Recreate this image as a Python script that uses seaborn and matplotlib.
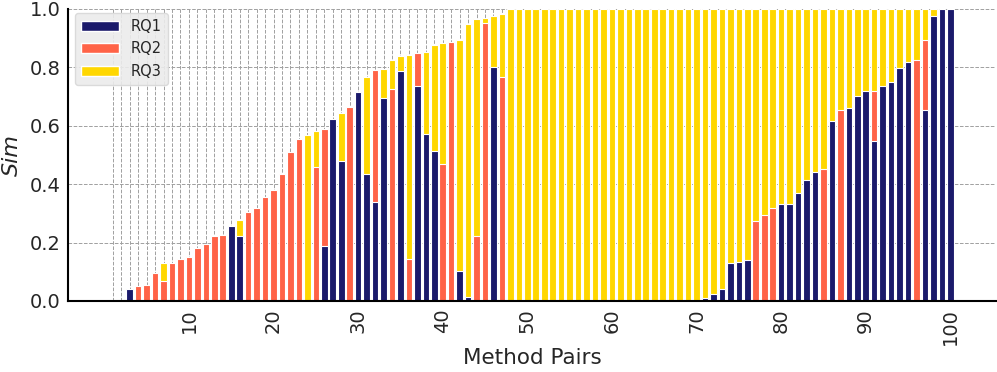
import numpy as np
import pandas as pd
import seaborn as sns
import matplotlib.pyplot as plt
from matplotlib.patches import Patch

sns.set_theme(style="white")
plt.rcParams['font.family'] = ['DejaVu Sans']

pairs = list(range(1, 101))

# visible height of each series per method pair (0 = not shown)
rq1 = [0, 0, 0.04, 0, 0, 0, 0, 0, 0, 0,
       0, 0, 0, 0, 0.256, 0.224, 0, 0, 0, 0,
       0, 0, 0, 0, 0, 0.188, 0.622, 0.479, 0, 0.716,
       0.435, 0.338, 0.695, 0, 0.787, 0, 0.737, 0.570, 0.513, 0,
       0, 0.101, 0.015, 0, 0, 0.802, 0, 0, 0, 0,
       0, 0, 0, 0, 0, 0, 0, 0, 0, 0,
       0, 0, 0, 0, 0, 0, 0, 0, 0, 0,
       0.011, 0.025, 0.040, 0.131, 0.134, 0.140, 0, 0, 0, 0.331,
       0.331, 0.370, 0.414, 0.441, 0, 0.615, 0, 0.661, 0.701, 0.719,
       0.547, 0.737, 0.749, 0.799, 0.818, 0, 0.654, 0.977, 1.0, 1.0]
rq2 = [0, 0, 0, 0.05, 0.053, 0.097, 0.068, 0.129, 0.144, 0.149,
       0.181, 0.196, 0.221, 0.225, 0, 0, 0.305, 0.320, 0.356, 0.381,
       0.436, 0.510, 0.556, 0, 0.460, 0.590, 0, 0, 0.664, 0,
       0, 0.791, 0, 0.726, 0, 0.143, 0.849, 0, 0, 0.468,
       0.886, 0, 0, 0.222, 0.951, 0, 0.768, 0, 0, 0,
       0, 0, 0, 0, 0, 0, 0, 0, 0, 0,
       0, 0, 0, 0, 0, 0, 0, 0, 0, 0,
       0, 0, 0, 0, 0, 0, 0.274, 0.295, 0.320, 0,
       0, 0, 0, 0, 0.451, 0, 0.655, 0, 0, 0,
       0.720, 0, 0, 0, 0, 0.825, 0.894, 0, 0, 0]
rq3 = [0, 0, 0, 0, 0, 0, 0.129, 0, 0, 0,
       0, 0, 0, 0, 0, 0.277, 0, 0, 0, 0,
       0, 0, 0, 0.569, 0.581, 0, 0, 0.643, 0, 0,
       0.768, 0, 0.796, 0.825, 0.840, 0.841, 0, 0.854, 0.878, 0.882,
       0, 0.892, 0.947, 0.965, 0.968, 0.977, 0.983, 1.0, 1.0, 1.0,
       1.0, 1.0, 1.0, 1.0, 1.0, 1.0, 1.0, 1.0, 1.0, 1.0,
       1.0, 1.0, 1.0, 1.0, 1.0, 1.0, 1.0, 1.0, 1.0, 1.0,
       1.0, 1.0, 1.0, 1.0, 1.0, 1.0, 1.0, 1.0, 1.0, 1.0,
       1.0, 1.0, 1.0, 1.0, 1.0, 1.0, 1.0, 1.0, 1.0, 1.0,
       1.0, 1.0, 1.0, 1.0, 1.0, 1.0, 1.0, 1.0, 0, 0]

series = {'RQ1': rq1, 'RQ2': rq2, 'RQ3': rq3}
colors = {'RQ1': '#1b1a6b', 'RQ2': '#ff6347', 'RQ3': '#ffd700'}

fig = plt.figure(figsize=(9.97, 3.72), dpi=100)
ax = fig.add_axes([0.068, 0.191, 0.931, 0.785])

# tallest series at the back, so draw RQ3 first
for name in ['RQ3', 'RQ2', 'RQ1']:
    df = pd.DataFrame({'pair': pairs, 'sim': series[name]})
    df = df[df.sim > 0]
    sns.barplot(data=df, x='pair', y='sim', order=pairs, color=colors[name],
                saturation=1, width=0.78, edgecolor='white', linewidth=0.8,
                errorbar=None, ax=ax)

ax.set_xlim(-5.32, 104.4)
ax.set_ylim(0, 1.0)
ax.set_xticks(range(len(pairs)))
ax.set_xticklabels([str(p) if p % 10 == 0 else '' for p in pairs], rotation=90)
ax.set_yticks([0, 0.2, 0.4, 0.6, 0.8, 1.0])
ax.set_yticklabels(['0.0', '0.2', '0.4', '0.6', '0.8', '1.0'])
ax.tick_params(axis='both', length=0, labelsize=14, colors='#262626', pad=5)
ax.set_axisbelow(True)
ax.grid(True, linestyle='--', color='#a0a0a0', linewidth=0.7)

for side in ['top', 'right']:
    ax.spines[side].set_visible(False)
for side in ['left', 'bottom']:
    ax.spines[side].set_color('black')
    ax.spines[side].set_linewidth(1.5)

ax.set_xlabel('Method Pairs', fontsize=15.5, color='#262626', labelpad=2)
ax.set_ylabel('Sim', fontsize=16, style='italic', color='#262626', labelpad=6)

handles = [Patch(facecolor=colors[n], edgecolor='white', label=n) for n in ['RQ1', 'RQ2', 'RQ3']]
ax.legend(handles=handles, loc='upper left', bbox_to_anchor=(0.008, 0.985),
          borderaxespad=0, fontsize=10.5, frameon=True, facecolor='#ebebeb',
          edgecolor='#d8d8d8', framealpha=0.9, handlelength=2.6)

fig.savefig('out.png', dpi=100)
